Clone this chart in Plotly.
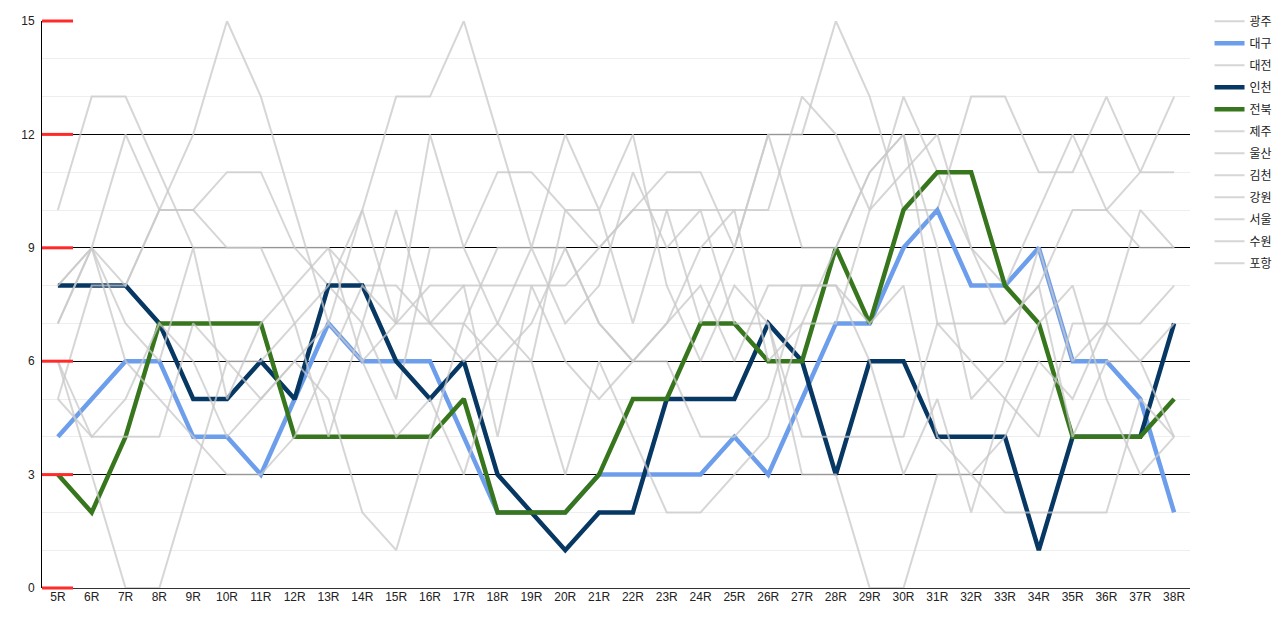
import plotly.graph_objects as go

rounds = [f"{i}R" for i in range(5, 39)]

teams = ["광주", "대구", "대전", "인천", "전북", "제주", "울산", "김천", "강원", "서울", "수원", "포항"]

gwangju = [10, 13, 13, 11, 9, 9, 9, 9, 9, 8, 8, 7, 8, 8, 8, 8, 9, 10, 11, 11, 9, 12, 12, 15, 13, 10, 10, 13, 13, 11, 11, 13, 11, 13]
daegu = [4, 5, 6, 6, 4, 4, 3, 5, 7, 6, 6, 6, 4, 2, 2, 2, 3, 3, 3, 3, 4, 3, 5, 7, 7, 9, 10, 8, 8, 9, 6, 6, 5, 2]
daejeon = [8, 9, 12, 10, 10, 11, 11, 9, 8, 7, 5, 9, 9, 11, 11, 10, 10, 7, 10, 10, 10, 10, 13, 12, 10, 13, 11, 9, 8, 10, 12, 10, 9, 9]
incheon = [8, 8, 8, 7, 5, 5, 6, 5, 8, 8, 6, 5, 6, 3, 2, 1, 2, 2, 5, 5, 5, 7, 6, 3, 6, 6, 4, 4, 4, 1, 4, 4, 4, 7]
jeonbuk = [3, 2, 4, 7, 7, 7, 7, 4, 4, 4, 4, 4, 5, 2, 2, 2, 3, 5, 5, 7, 7, 6, 6, 9, 7, 10, 11, 11, 8, 7, 4, 4, 4, 5]
jeju = [7, 9, 8, 10, 12, 15, 13, 10, 7, 10, 13, 13, 15, 12, 9, 12, 10, 12, 8, 6, 8, 7, 3, 3, 0, 0, 3, 3, 2, 2, 2, 2, 5, 4]
ulsan = [6, 3, 0, 0, 3, 6, 5, 6, 5, 2, 1, 4, 7, 6, 7, 9, 7, 6, 7, 9, 10, 6, 7, 9, 11, 12, 7, 7, 7, 8, 10, 10, 11, 11]
gimcheon = [5, 4, 4, 4, 7, 6, 6, 7, 4, 7, 10, 7, 6, 7, 9, 7, 8, 11, 9, 10, 7, 7, 4, 4, 4, 4, 7, 6, 5, 4, 7, 7, 7, 8]
gangwon = [8, 9, 6, 5, 4, 3, 3, 4, 6, 8, 7, 7, 7, 9, 9, 9, 7, 6, 6, 4, 4, 5, 8, 8, 6, 3, 5, 2, 5, 7, 8, 5, 3, 4]
seoul = [6, 4, 5, 7, 6, 4, 5, 6, 7, 6, 4, 5, 3, 6, 6, 3, 6, 4, 2, 2, 3, 4, 7, 7, 10, 11, 12, 9, 7, 8, 4, 6, 6, 7]
suwon = [7, 9, 7, 6, 9, 5, 7, 8, 9, 6, 7, 12, 9, 7, 6, 10, 9, 10, 10, 7, 9, 12, 9, 9, 11, 12, 9, 5, 6, 9, 6, 7, 10, 9]
pohang = [5, 8, 8, 10, 10, 9, 9, 7, 8, 10, 7, 8, 8, 4, 8, 6, 5, 6, 7, 8, 6, 8, 8, 8, 7, 8, 4, 3, 4, 6, 5, 7, 6, 4]

series = [gwangju, daegu, daejeon, incheon, jeonbuk, jeju, ulsan, gimcheon, gangwon, seoul, suwon, pohang]

highlight = {"대구": "#6d9eeb", "인천": "#073763", "전북": "#38761d"}
gray = "rgba(200,200,200,0.75)"

y_ticks = [0, 3, 6, 9, 12, 15]
y_max = 15

fig = go.Figure()
for name, vals in zip(teams, series):
    if name in highlight:
        line = dict(color=highlight[name], width=4.5)
    else:
        line = dict(color=gray, width=2)
    fig.add_trace(go.Scatter(
        x=rounds, y=vals, mode="lines", name=name, line=line,
        legendgroup=name, hoverinfo="skip"))

plot_w = 1287 - 42 - 97
for v in y_ticks:
    fig.add_shape(type="line", xref="paper", yref="paper",
                  x0=0, x1=31 / plot_w, y0=v / y_max, y1=v / y_max,
                  line=dict(color="#ff2a2a", width=3), layer="above")

font_family = "Liberation Sans, Arial, Noto Sans CJK KR, sans-serif"

fig.update_layout(
    width=1287, height=633,
    margin=dict(l=42, r=97, t=21, b=45, autoexpand=False),
    paper_bgcolor="white", plot_bgcolor="white",
    font=dict(family=font_family, size=12, color="#222222"),
    showlegend=True,
    legend=dict(
        x=1.017, y=1.025, xanchor="left", yanchor="top",
        font=dict(size=12, color="#222222"),
        traceorder="grouped", tracegroupgap=3,
        itemwidth=30, bgcolor="rgba(0,0,0,0)"),
    xaxis=dict(
        type="category", categoryorder="array", categoryarray=rounds,
        range=[-0.47, len(rounds) - 1 + 0.47],
        showgrid=False, zeroline=False, showline=False, ticks="",
        tickfont=dict(size=12, color="#222222")),
    yaxis=dict(
        range=[0, y_max], tickvals=y_ticks, ticktext=[str(v) for v in y_ticks],
        showgrid=True, gridcolor="#000000", gridwidth=1,
        minor=dict(dtick=1, showgrid=True, gridcolor="#eeeeee", gridwidth=1, ticks=""),
        zeroline=True, zerolinecolor="#333333", zerolinewidth=1,
        showline=True, linecolor="#000000", linewidth=1,
        ticks="", ticklabelstandoff=4,
        tickfont=dict(size=12, color="#222222")),
)

fig.write_html("out.html", config={"displayModeBar": False},
               post_script="document.body.style.margin='0';")
